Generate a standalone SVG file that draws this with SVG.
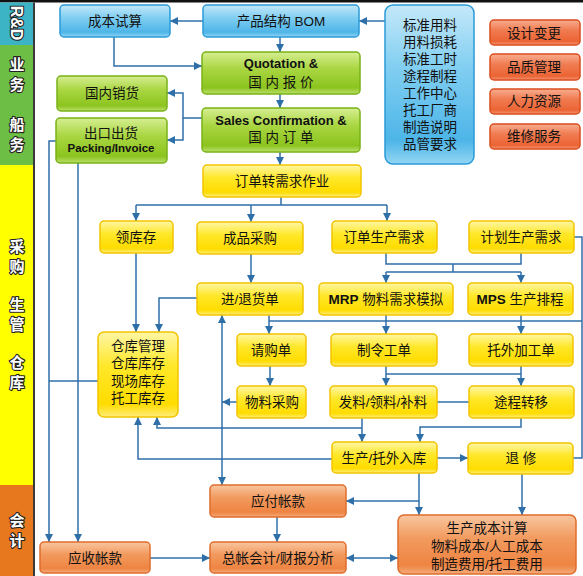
<svg xmlns="http://www.w3.org/2000/svg" width="583" height="576" viewBox="0 0 583 576">
<defs>
<linearGradient id="gb" x1="0" y1="0" x2="0" y2="1"><stop offset="0" stop-color="#C4E8F9"/><stop offset="0.4" stop-color="#80CEF1"/><stop offset="0.85" stop-color="#4DB5E8"/><stop offset="1" stop-color="#93D6F4"/></linearGradient>
<linearGradient id="gg" x1="0" y1="0" x2="0" y2="1"><stop offset="0" stop-color="#D6EE92"/><stop offset="0.4" stop-color="#A9D641"/><stop offset="0.85" stop-color="#8CC41F"/><stop offset="1" stop-color="#BBDF6C"/></linearGradient>
<linearGradient id="gy" x1="0" y1="0" x2="0" y2="1"><stop offset="0" stop-color="#FFF6A6"/><stop offset="0.4" stop-color="#FFE829"/><stop offset="0.85" stop-color="#FFDC00"/><stop offset="1" stop-color="#FFEE7A"/></linearGradient>
<linearGradient id="go" x1="0" y1="0" x2="0" y2="1"><stop offset="0" stop-color="#F9C6A0"/><stop offset="0.4" stop-color="#F29A5E"/><stop offset="0.85" stop-color="#EE8442"/><stop offset="1" stop-color="#F5AC7C"/></linearGradient>
<linearGradient id="gr" x1="0" y1="0" x2="0" y2="1"><stop offset="0" stop-color="#F8AE90"/><stop offset="0.4" stop-color="#F07C52"/><stop offset="0.85" stop-color="#EC6434"/><stop offset="1" stop-color="#F29674"/></linearGradient>
<marker id="a" viewBox="0 0 10 10" refX="10" refY="5" markerWidth="9" markerHeight="8" orient="auto-start-reverse" markerUnits="userSpaceOnUse"><path d="M0,0 L10,5 L0,10 z" fill="#2F6FA8"/></marker>
</defs>
<style>
.b{fill:url(#gb);stroke:#2B9BD8;stroke-width:1.5}
.g{fill:url(#gg);stroke:#7AB317;stroke-width:1.5}
.y{fill:url(#gy);stroke:#F2C400;stroke-width:1.5}
.o{fill:url(#go);stroke:#E06C2C;stroke-width:1.5}
.r{fill:url(#gr);stroke:#DA4C1E;stroke-width:1.5}
text{font-family:"Liberation Sans","Noto Sans CJK SC",sans-serif;font-size:13.5px;fill:#111;text-anchor:middle}
.bd{font-weight:bold}
.s{font-family:"Noto Sans CJK SC","Liberation Sans",sans-serif;font-size:15px;font-weight:bold;fill:#fff;stroke:#222;stroke-width:2.2;paint-order:stroke;stroke-linejoin:round}
.v{writing-mode:vertical-rl;text-anchor:start;letter-spacing:5px}
#conn path{fill:none;stroke:#2F6FA8;stroke-width:1.5}
.m{marker-end:url(#a)}
</style>
<rect x="0" y="0" width="583" height="576" fill="#fff"/>
<g id="sidebar">
<rect x="0" y="0" width="583" height="2.5" fill="#111"/>
<rect x="0" y="2.5" width="33" height="43" fill="#3CB4C6"/>
<rect x="0" y="45" width="33" height="120" fill="#6DBE45"/>
<rect x="0" y="165" width="33" height="320" fill="#FFFF00"/>
<rect x="0" y="485" width="33" height="91" fill="#E8781E"/>
<rect x="33" y="2.5" width="2" height="573.5" fill="#3A3A3A"/>
<text class="s" transform="translate(11,23) rotate(90)" style="font-family:'Liberation Sans',sans-serif;font-size:16px">R&amp;D</text>
<text class="s v" x="17" y="57">业务</text>
<text class="s v" x="17" y="117">船务</text>
<text class="s v" x="17" y="239">采购</text>
<text class="s v" x="17" y="297">生管</text>
<text class="s v" x="17" y="355">仓库</text>
<text class="s v" x="17" y="513">会计</text>
</g>
<g id="conn">
<path class="m" d="M203,21 H170"/>
<path class="m" d="M114,37 V66 H202"/>
<path class="m" d="M385,21 H359"/>
<path class="m" d="M280,37 V52"/>
<path class="m" d="M280,94 V108"/>
<path class="m" d="M280,152 V165"/>
<path class="m" d="M202,118 H183 V93 H167"/>
<path class="m" d="M183,118 V140 H167"/>
<path class="m" d="M56,141 H49 V542"/>
<path class="m" d="M78,163 V542"/>
<path d="M98,381 H49"/>
<path d="M281,197 V205 M136,205 H387"/>
<path class="m" d="M136,205 V221"/>
<path class="m" d="M251,205 V222"/>
<path class="m" d="M387,205 V221"/>
<path class="m" d="M136,253 V332"/>
<path class="m" d="M197,298 H159 V332"/>
<path class="m" d="M251,254 V283"/>
<path d="M386,253 V264 H521 V253 M453,264 V272 M386,272 H521"/>
<path class="m" d="M386,272 V283"/>
<path class="m" d="M521,272 V283"/>
<path d="M574,237 H582 V458 H573"/>
<path d="M269,321 H582"/>
<path class="m" d="M269,315 V334"/>
<path class="m" d="M386,315 V334"/>
<path class="m" d="M521,315 V334"/>
<path class="m" d="M270,366 V386"/>
<path class="m" d="M237,402 H222"/>
<path class="m" d="M222,400 V315"/>
<path class="m" d="M222,400 V485"/>
<path d="M386,374 H521"/>
<path class="m" d="M386,366 V386"/>
<path class="m" d="M521,366 V386"/>
<path d="M437,402 H469"/>
<path class="m" d="M521,418 V427 H420 V442"/>
<path class="m" d="M362,418 V442"/>
<path class="m" d="M362,428 H157 V417"/>
<path class="m" d="M332,459 H138 V417"/>
<path class="m" d="M437,458 H468"/>
<path class="m" d="M419,473 V515"/>
<path class="m" d="M419,501 H346"/>
<path class="m" d="M522,474 V515"/>
<path class="m" d="M277,517 V542"/>
<path class="m" d="M150,558 H210"/>
<path class="m" d="M372,558 H398"/>
<path class="m" d="M372,558 H346"/>
</g>
<g id="n-cost-trial"><rect class="b" x="60" y="5" width="110" height="32" rx="4"/><text x="115" y="26">成本试算</text></g>
<g id="n-bom"><rect class="b" x="203" y="5" width="156" height="32" rx="4"/><text x="281" y="26">产品结构 BOM</text></g>
<g id="n-std"><rect class="b" x="385" y="5" width="89" height="159" rx="8"/>
<text x="430" y="30">标准用料</text><text x="430" y="47">用料损耗</text><text x="430" y="64">标准工时</text><text x="430" y="81">途程制程</text><text x="430" y="98">工作中心</text><text x="430" y="115">托工厂商</text><text x="430" y="132">制造说明</text><text x="430" y="149">品管要求</text></g>
<g id="n-design"><rect class="r" x="490" y="20" width="90" height="25" rx="4"/><text x="534" y="38">设计变更</text></g>
<g id="n-quality"><rect class="r" x="490" y="54" width="90" height="26" rx="4"/><text x="534" y="72">品质管理</text></g>
<g id="n-hr"><rect class="r" x="490" y="89" width="90" height="25" rx="4"/><text x="534" y="106">人力资源</text></g>
<g id="n-repair-svc"><rect class="r" x="490" y="124" width="90" height="25" rx="4"/><text x="534" y="141">维修服务</text></g>
<g id="n-domestic-sales"><rect class="g" x="57" y="76" width="110" height="35" rx="4"/><text x="112" y="98">国内销货</text></g>
<g id="n-export"><rect class="g" x="56" y="118" width="111" height="45" rx="4"/><text x="111" y="138">出口出货</text><text class="bd" x="111" y="152" style="font-size:11.5px">Packing/Invoice</text></g>
<g id="n-quotation"><rect class="g" x="202" y="52" width="158" height="42" rx="4"/><text class="bd" x="281" y="68" style="font-size:13px">Quotation &amp;</text><text x="281" y="87">国 内 报 价</text></g>
<g id="n-sales-conf"><rect class="g" x="202" y="108" width="158" height="44" rx="4"/><text class="bd" x="281" y="125" style="font-size:13px">Sales Confirmation &amp;</text><text x="281" y="142">国 内 订 单</text></g>
<g id="n-order-demand"><rect class="y" x="203" y="165" width="158" height="32" rx="4"/><text x="282" y="186">订单转需求作业</text></g>
<g id="n-draw-stock"><rect class="y" x="100" y="221" width="73" height="32" rx="4"/><text x="136" y="242">领库存</text></g>
<g id="n-fg-purchase"><rect class="y" x="197" y="222" width="106" height="32" rx="4"/><text x="250" y="243">成品采购</text></g>
<g id="n-order-prod"><rect class="y" x="332" y="221" width="105" height="32" rx="4"/><text x="384" y="242">订单生产需求</text></g>
<g id="n-plan-prod"><rect class="y" x="469" y="221" width="105" height="32" rx="4"/><text x="521" y="242">计划生产需求</text></g>
<g id="n-in-out"><rect class="y" x="197" y="283" width="106" height="32" rx="4"/><text x="250" y="304">进/退货单</text></g>
<g id="n-mrp"><rect class="y" x="319" y="283" width="134" height="32" rx="4"/><text x="386" y="304"><tspan class="bd">MRP</tspan> 物料需求模拟</text></g>
<g id="n-mps"><rect class="y" x="468" y="283" width="105" height="32" rx="4"/><text x="520" y="304"><tspan class="bd">MPS</tspan> 生产排程</text></g>
<g id="n-warehouse"><rect class="y" x="98" y="332" width="80" height="85" rx="6"/><text x="138" y="351">仓库管理</text><text x="138" y="368">仓库库存</text><text x="138" y="386">现场库存</text><text x="138" y="403">托工库存</text></g>
<g id="n-pr"><rect class="y" x="237" y="334" width="69" height="32" rx="4"/><text x="271" y="355">请购单</text></g>
<g id="n-mo"><rect class="y" x="331" y="334" width="106" height="32" rx="4"/><text x="384" y="355">制令工单</text></g>
<g id="n-outsource"><rect class="y" x="469" y="334" width="104" height="32" rx="4"/><text x="521" y="355">托外加工单</text></g>
<g id="n-mat-purchase"><rect class="y" x="237" y="386" width="69" height="32" rx="4"/><text x="272" y="407">物料采购</text></g>
<g id="n-issue"><rect class="y" x="330" y="386" width="107" height="32" rx="4"/><text x="383" y="407">发料/领料/补料</text></g>
<g id="n-routing"><rect class="y" x="469" y="386" width="105" height="32" rx="4"/><text x="521" y="407">途程转移</text></g>
<g id="n-receipt"><rect class="y" x="332" y="442" width="105" height="31" rx="4"/><text x="384" y="463">生产/托外入库</text></g>
<g id="n-rework"><rect class="y" x="468" y="443" width="105" height="31" rx="4"/><text x="521" y="463">退  修</text></g>
<g id="n-ap"><rect class="o" x="210" y="485" width="136" height="32" rx="4"/><text x="278" y="506">应付帐款</text></g>
<g id="n-cost-calc"><rect class="o" x="398" y="515" width="178" height="59" rx="6"/><text x="487" y="533">生产成本计算</text><text x="487" y="551">物料成本/人工成本</text><text x="487" y="569">制造费用/托工费用</text></g>
<g id="n-ar"><rect class="o" x="40" y="542" width="110" height="31" rx="4"/><text x="95" y="563">应收帐款</text></g>
<g id="n-gl"><rect class="o" x="210" y="542" width="136" height="31" rx="4"/><text x="278" y="563">总帐会计/财报分析</text></g>
</svg>
